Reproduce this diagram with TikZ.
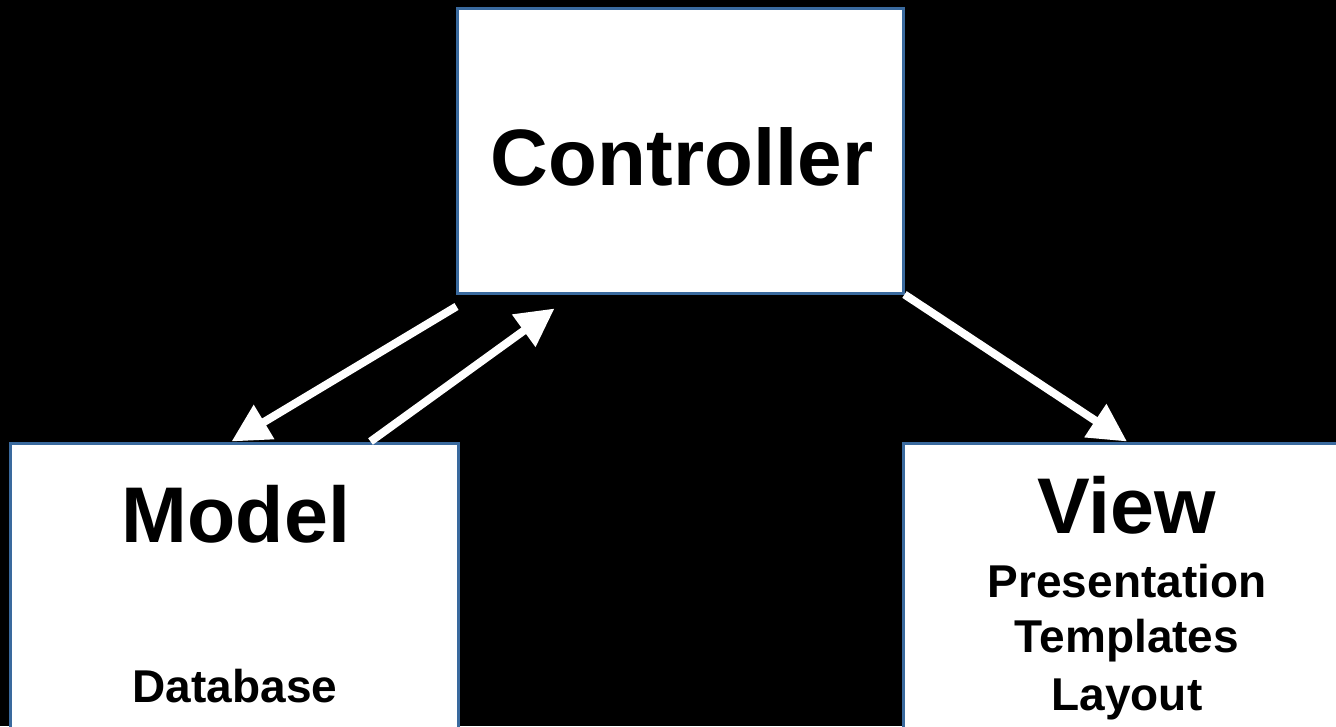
\documentclass[tikz,border=0pt]{standalone}
\usepackage{fontspec}
\setmainfont{Liberation Sans}
\usetikzlibrary{arrows.meta,calc}
\definecolor{boxblue}{HTML}{3A6A9E}
\tikzset{
  mvcbox/.style={draw=boxblue, line width=3pt, fill=white, rectangle, inner sep=0pt},
  bigtxt/.style={font=\fontsize{79}{90}\selectfont\bfseries, anchor=base, inner sep=0pt},
  smalltxt/.style={font=\fontsize{46}{56}\selectfont\bfseries, anchor=base, inner sep=0pt},
  flow/.style={draw=white, line width=8pt, -{Triangle[length=38pt,width=38pt]}}
}
\begin{document}
\begin{tikzpicture}[x=1pt,y=-1pt]
\fill[black] (0,0) rectangle (1336,726);
\useasboundingbox (0,0) rectangle (1336,726);
\clip (0,0) rectangle (1336,726);
\node[mvcbox, minimum width=446pt, minimum height=285pt] (ctrl) at (680,150.5) {};
\node[mvcbox, minimum width=448pt, minimum height=360pt] (model) at (234,623) {};
\node[mvcbox, minimum width=448pt, minimum height=360pt] (view) at (1127,623) {};
\node[bigtxt, font=\fontsize{80}{90}\selectfont\bfseries] (ctitle) at (682,185) {Controller};
\node[bigtxt] (mtitle) at (236,542) {Model};
\node[bigtxt] (vtitle) at (1127,533) {View};
\node[smalltxt] (db) at (235,702) {Database};
\node[smalltxt] (pres) at (1127,597) {Presentation};
\node[smalltxt] (tmpl) at (1127,652) {Templates};
\node[smalltxt] (lay) at (1127,710) {Layout};
\draw[flow] ($(ctrl.south west)+(1,12)$) -- ($(model.north west)+(223,0)$);
\draw[flow] ($(model.north west)+(362,0)$) -- ($(ctrl.south west)+(99,14)$);
\draw[flow] (ctrl.south east) -- (view.north);
\end{tikzpicture}
\end{document}
